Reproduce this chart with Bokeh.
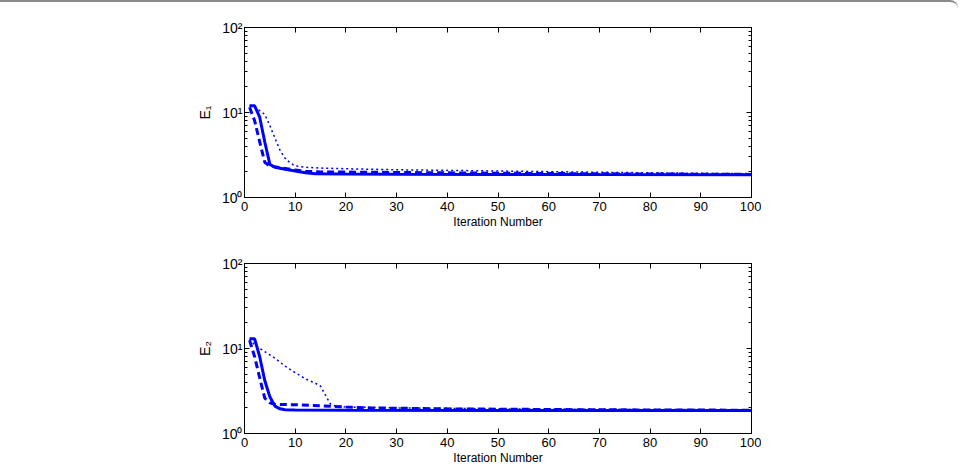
from bokeh.plotting import figure
from bokeh.layouts import column
from bokeh.models import LinearAxis, LogAxis, FixedTicker, LogTicker, Range1d
from bokeh.embed import file_html
from bokeh.resources import INLINE

# ---- data ----
x_ticks = [0, 10, 20, 30, 40, 50, 60, 70, 80, 90, 100]
y_tick_labels = {1: "10⁰", 10: "10¹", 100: "10²"}
x_label = "Iteration Number"
y_labels = ["E₁", "E₂"]

top_solid_x = [1, 2, 3, 4, 5, 6, 8, 10, 12, 14, 20, 30, 50, 70, 100]
top_solid_y = [12, 12, 8.8, 4.5, 2.45, 2.27, 2.15, 2.05, 1.95, 1.9, 1.89, 1.88, 1.87, 1.86, 1.85]
top_dashed_x = [1, 2, 3, 4, 5, 8, 10, 12, 15, 20, 30, 50, 70, 100]
top_dashed_y = [11.5, 8, 4.5, 2.6, 2.35, 2.2, 2.1, 2.03, 2.0, 1.99, 1.97, 1.93, 1.9, 1.87]
top_dotted_x = [1, 2, 3, 4, 5, 6, 7, 8, 9, 10, 12, 15, 20, 30, 50, 70, 100]
top_dotted_y = [12, 11.5, 10.5, 9.5, 7, 5, 3.6, 2.9, 2.55, 2.35, 2.27, 2.22, 2.18, 2.12, 2.05, 1.98, 1.9]

bot_solid_x = [1, 2, 3, 4, 5, 6, 7, 8, 10, 20, 50, 100]
bot_solid_y = [13, 13, 8, 4.2, 2.7, 2.1, 1.95, 1.9, 1.89, 1.88, 1.87, 1.86]
bot_dashed_x = [1, 2, 3, 4, 5, 6, 10, 15, 20, 25, 40, 70, 100]
bot_dashed_y = [12.5, 8, 4.5, 2.6, 2.3, 2.2, 2.18, 2.12, 2.05, 2.0, 1.95, 1.9, 1.88]
bot_dotted_x = [1, 2, 3, 4, 6, 8, 10, 12, 14, 15, 16, 17, 18, 20, 30, 50, 100]
bot_dotted_y = [13, 11, 10, 9.2, 7.7, 6.2, 5.2, 4.4, 3.9, 3.6, 2.8, 2.2, 2.1, 2.05, 2.0, 1.95, 1.9]

FONT = "Liberation Sans"
BLUE = "#0000ff"


def make_panel(ylabel, series, top_border, bottom_border):
    p = figure(frame_width=507, frame_height=170,
               y_axis_type="log", x_range=Range1d(0, 100), y_range=Range1d(1, 100),
               output_backend="svg", toolbar_location=None,
               min_border_left=244, min_border_right=10,
               min_border_top=top_border, min_border_bottom=bottom_border)
    p.grid.visible = False
    p.outline_line_color = "black"
    p.outline_line_width = 1
    p.background_fill_color = "white"
    p.border_fill_color = "white"

    (sx, sy), (dx, dy), (ox, oy) = series
    p.line(ox, oy, line_color=BLUE, line_width=1.5, line_dash="2 3")
    p.line(dx, dy, line_color=BLUE, line_width=3, line_dash="7 4")
    p.line(sx, sy, line_color=BLUE, line_width=3)

    xa = p.xaxis[0]
    xa.ticker = FixedTicker(ticks=x_ticks)
    xa.axis_label = x_label
    xa.axis_label_text_font = FONT
    xa.axis_label_text_font_size = "12px"
    xa.axis_label_text_font_style = "normal"
    xa.axis_label_standoff = 1
    xa.major_label_text_font = FONT
    xa.major_label_text_font_size = "13px"
    xa.major_label_standoff = 4

    ya = p.yaxis[0]
    ya.ticker = LogTicker(num_minor_ticks=10)
    ya.major_label_overrides = y_tick_labels
    ya.axis_label = ylabel
    ya.axis_label_text_font = FONT
    ya.axis_label_text_font_size = "14px"
    ya.axis_label_text_font_style = "normal"
    ya.axis_label_standoff = 6
    ya.major_label_text_font = FONT
    ya.major_label_text_font_size = "14px"
    ya.major_label_standoff = 2

    for ax in (xa, ya):
        ax.axis_line_color = "black"
        ax.major_tick_in = 5
        ax.major_tick_out = 0
        ax.minor_tick_in = 3
        ax.minor_tick_out = 0
        ax.major_tick_line_color = "black"
        ax.minor_tick_line_color = "black"
        ax.major_label_text_color = "black"
        ax.axis_label_text_color = "black"
    xa.minor_tick_line_color = None

    top = LinearAxis(ticker=FixedTicker(ticks=x_ticks), major_label_text_font_size="6px",
                     major_label_text_alpha=0, major_label_text_font=FONT,
                     major_tick_in=5, major_tick_out=0, minor_tick_line_color=None,
                     major_label_standoff=0, axis_line_color="black")
    p.add_layout(top, "above")
    right = LogAxis(ticker=LogTicker(num_minor_ticks=10), major_label_text_font_size="6px",
                    major_label_text_alpha=0, major_label_text_font=FONT,
                    major_tick_in=5, major_tick_out=0, minor_tick_in=3, minor_tick_out=0,
                    major_label_standoff=0, axis_line_color="black")
    p.add_layout(right, "right")
    return p


p1 = make_panel(y_labels[0],
                [(top_solid_x, top_solid_y), (top_dashed_x, top_dashed_y), (top_dotted_x, top_dotted_y)],
                25, 50)
p2 = make_panel(y_labels[1],
                [(bot_solid_x, bot_solid_y), (bot_dashed_x, bot_dashed_y), (bot_dotted_x, bot_dotted_y)],
                16, 35)

layout = column(p1, p2, spacing=0, width=958,
                styles={"border-top": "2px solid #8a8a8a", "border-top-right-radius": "8px",
                        "background-color": "white"})
open("out.html", "w").write(file_html(layout, INLINE))
